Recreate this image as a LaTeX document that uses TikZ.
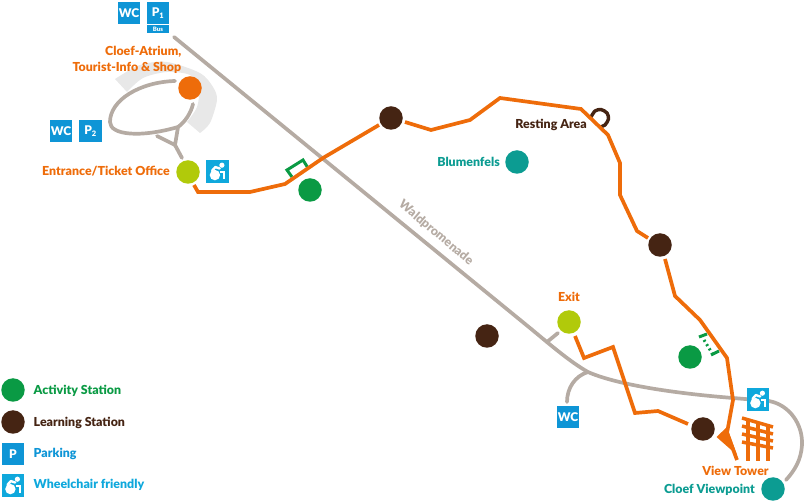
\documentclass[tikz,border=0pt]{standalone}
\usepackage{fontspec}
\setmainfont{Lato}[UprightFont=* Black,BoldFont=* Black]
\definecolor{routeor}{HTML}{EE6C0A}
\definecolor{pathgr}{HTML}{B5ABA3}
\definecolor{arcgr}{HTML}{E8E8E8}
\definecolor{brownst}{HTML}{452413}
\definecolor{greenst}{HTML}{0A9A44}
\definecolor{tealst}{HTML}{0C9C92}
\definecolor{limest}{HTML}{B1CA0A}
\definecolor{pblue}{HTML}{0E95D6}
\definecolor{wblue}{HTML}{0FA8DC}
\tikzset{
  route/.style={draw=routeor,line width=3.7pt,line join=miter},
  grpath/.style={draw=pathgr,line width=3.7pt,line cap=round,line join=round},
  station/.style={circle,minimum size=23.5pt,inner sep=0pt,fill=#1},
  bluebox/.style={fill=pblue,text=white,minimum size=22.5pt,inner sep=0pt,font=\fontsize{12}{12}\selectfont},
  lab/.style={inner sep=0pt,font=\fontsize{12.4}{15.5}\selectfont,text=#1},
  wch/.pic={
    \fill[wblue] (-11.3,-11.3) rectangle (11.3,11.3);
    \fill[white] (4.4,-6.3) circle (2.6);
    \draw[white,line width=2.4pt,line cap=round,line join=round] (2.2,-3) -- (-2.2,-4.4) -- (-5.4,-0.8);
    \fill[white] (-2.6,3.6) circle (5.2);
    \draw[white,line width=2.2pt] (2.8,0.6) -- (6.8,0.6) -- (6.8,7.8);
  }
}
\begin{document}
\begin{tikzpicture}[x=1pt,y=-1pt]
\useasboundingbox (0,0) rectangle (804,502);
% light arc
\fill[arcgr] plot[smooth] coordinates {(115,79)(140,65)(167,62)(200,73)(213,87)(217,100)(210,123)(200,133)}
  -- plot[smooth] coordinates {(187,122)(197,107)(199,88)(190,75)(167,72)(143,78)(127,92)} -- cycle;
% grey paths
\coordinate (wA) at (174,37);
\coordinate (wB) at (547,342);
\coordinate (spurE) at (558,333);
\coordinate (wcJ) at (588,372);
\coordinate (wcEnd) at (567,402);
\coordinate (bendR) at (769,401);
\coordinate (viewEnd) at (786,480);
\draw[grpath] (wA) -- (530,328) .. controls (wB) and (570,362) .. (wcJ)
  .. controls (615,384) and (670,393) .. (733,398) -- (bendR)
  .. controls (790,405) and (803,425) .. (802,445) .. controls (801,460) and (795,470) .. (viewEnd);
\draw[grpath] (wB) -- (spurE);
\draw[grpath] (wcJ) .. controls (575,376) and (567,388) .. (wcEnd);
\coordinate (lpA) at (175,81);
\coordinate (lpB) at (193,104);
\coordinate (yL) at (157,136);
\coordinate (yM) at (175,145);
\coordinate (yR) at (178,127);
\coordinate (yB) at (182,158);
\draw[grpath] (lpA) .. controls (140,82) and (110,100) .. (110,122)
  .. controls (110,135) and (140,138) .. (yR) .. controls (185,122) and (191,113) .. (lpB);
\draw[grpath] (yL) -- (yM) -- (yR);
\draw[grpath] (yM) -- (yB);
% bridge markers
\draw[draw=greenst,line width=3pt] (292,177) -- (287,170) -- (303,160) -- (308,168);
\draw[draw=greenst,line width=3pt] (699,337) -- (707,334);
\draw[draw=greenst,line width=3pt] (711,355) -- (719,351);
\draw[draw=greenst,line width=3pt,dash pattern=on 2pt off 3pt] (704,340) -- (712,353);
% resting ring
\draw[draw=brownst,line width=3.4pt] plot[smooth] coordinates {(591,117)(595,111)(601,109.5)(607,113)(608.5,119)(605,125)(600,127)};
% stations
\node[station=routeor] (atrium) at (190,88) {};
\node[station=limest] (entry) at (188,172) {};
\node[station=brownst] (ls1) at (391,118) {};
\node[station=greenst] (as1) at (310,190) {};
\node[station=tealst] (blume) at (517,162) {};
\node[station=brownst] (ls2) at (660,245) {};
\node[station=limest] (exitn) at (569,322) {};
\node[station=brownst] (ls3) at (487,336) {};
\node[station=greenst] (as2) at (690,357) {};
\node[station=brownst] (ls4) at (703,429) {};
\node[station=tealst] (view) at (773,489) {};
\node[station=greenst] (legA) at (13,390) {};
\node[station=brownst] (legL) at (13,422) {};
% orange routes
\coordinate (r0) at (194,185);
\coordinate (r1) at (379,125);
\coordinate (r2) at (405,122);
\coordinate (r2e) at (648,238);
\coordinate (r3) at (665,259);
\coordinate (r4) at (737,460);
\coordinate (x0) at (575,336);
\coordinate (x1) at (688,424);
\draw[route] (r0) -- (198,192) -- (250,192) -- (285,184) -- (323,158) -- (r1);
\draw[route] (r2) -- (431,130) -- (470,120) -- (500,98) -- (581,109) -- (608,135) -- (620,163) -- (620,195) -- (637,231) -- (r2e);
\draw[route] (r3) -- (675,296) -- (700,320) -- (727,358) -- (733,400) -- (727,433) -- (r4);
\draw[route] (x0) -- (584,358) -- (613,347) -- (635,413) -- (658,411) -- (x1);
\fill[routeor] (716.5,437) -- (727,427) -- (737,455) -- cycle;
% tower
\begin{scope}[draw=routeor,line width=3.5pt]
\draw (748,420) -- (748,461);
\draw (758,422) -- (758,461);
\draw (768,424) -- (768,461);
\draw (742,418) -- (773,427);
\draw (742,426) -- (773,434);
\draw (742,434) -- (773,441);
\draw (742,442) -- (773,448);
\end{scope}
% boxes
\node[bluebox] (wc1) at (129,13) {WC};
\node[bluebox] (p1) at (158,13) {P\textsubscript{\fontsize{7.5}{7.5}\selectfont 1}};
\node[fill=pblue,text=white,minimum width=22.5pt,minimum height=8pt,inner sep=0pt,font=\fontsize{6}{6}\selectfont] (bus) at (158,29) {Bus};
\node[bluebox] (wc2) at (61,131) {WC};
\node[bluebox] (p2) at (90.5,131) {P\textsubscript{\fontsize{7.5}{7.5}\selectfont 2}};
\node[bluebox] (wc3) at (568,417) {WC};
\node[bluebox] (legP) at (13,454) {P};
\pic at (217.5,171.5) {wch};
\pic at (758,399.5) {wch};
\pic at (13,485.5) {wch};
% labels
\node[lab=routeor,align=right,anchor=east] (tAtrium) at (181.5,60) {Cloef-Atrium,\\Tourist-Info \& Shop};
\node[lab=routeor,anchor=east] (tEntry) at (170,171.5) {Entrance/Ticket Office};
\node[lab=brownst,anchor=east] (tRest) at (587,125) {Resting Area};
\node[lab=tealst,anchor=east] (tBlume) at (500,161.5) {Blumenfels};
\node[lab=routeor] (tExit) at (569,297) {Exit};
\node[lab=routeor] (tTower) at (735.5,471) {View Tower};
\node[lab=tealst,anchor=east] (tView) at (755,489.5) {Cloef Viewpoint};
\node[lab=pathgr,rotate=-40] (tWald) at (436,233) {Waldpromenade};
\node[lab=greenst,anchor=west] (t1) at (33.5,390.5) {Activity Station};
\node[lab=brownst,anchor=west] (t2) at (33.5,422.5) {Learning Station};
\node[lab=pblue,anchor=west] (t3) at (33.5,454) {Parking};
\node[lab=wblue,anchor=west] (t4) at (33.5,485) {Wheelchair friendly};
\end{tikzpicture}
\end{document}
